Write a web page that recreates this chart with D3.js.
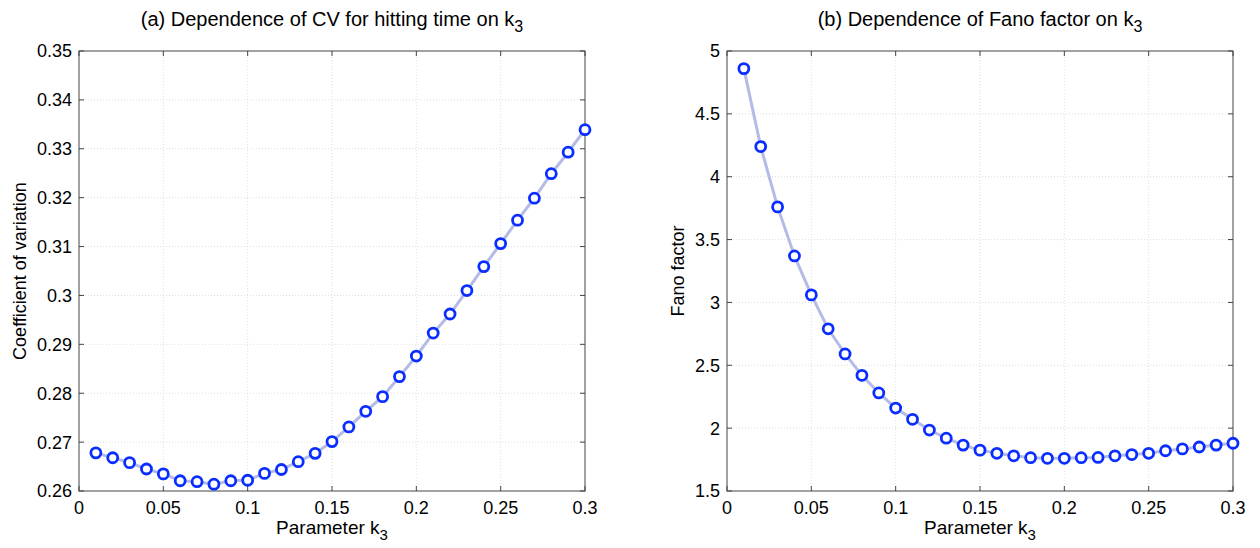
<!DOCTYPE html>
<html>
<head>
<meta charset="utf-8">
<script src="https://cdn.jsdelivr.net/npm/d3@7"></script>
<style>
  body { margin: 0; background: #fff; }
  svg text { font-family: "Liberation Sans", Arial, Helvetica, sans-serif; fill: #000; }
</style>
</head>
<body>
<svg id="chart" width="1260" height="548"></svg>
<script>
// k3 values shared by both panels
var k3 = [0.01,0.02,0.03,0.04,0.05,0.06,0.07,0.08,0.09,0.10,
          0.11,0.12,0.13,0.14,0.15,0.16,0.17,0.18,0.19,0.20,
          0.21,0.22,0.23,0.24,0.25,0.26,0.27,0.28,0.29,0.30];

// (a) coefficient of variation of the hitting time
var cvValues = [0.2678,0.2668,0.2658,0.2645,0.2635,0.2621,0.2619,0.2614,0.2621,0.2622,
                0.2636,0.2644,0.2660,0.2677,0.2701,0.2731,0.2763,0.2793,0.2834,0.2876,
                0.2923,0.2962,0.3010,0.3059,0.3106,0.3154,0.3199,0.3249,0.3293,0.3339];

// (b) Fano factor
var fanoValues = [4.86,4.24,3.76,3.37,3.06,2.79,2.59,2.42,2.28,2.16,
                  2.07,1.985,1.92,1.865,1.825,1.80,1.78,1.765,1.76,1.76,
                  1.765,1.767,1.78,1.79,1.80,1.82,1.835,1.85,1.865,1.88];

var xTicks = [0,0.05,0.1,0.15,0.2,0.25,0.3];
var cvTicks = [0.26,0.27,0.28,0.29,0.3,0.31,0.32,0.33,0.34,0.35];
var fanoTicks = [1.5,2,2.5,3,3.5,4,4.5,5];

var svg = d3.select("#chart");
var fontSize = 18;

function panel(opt){
    var g = svg.append("g").attr("class","panel");
    var x = d3.scaleLinear().domain([0,0.3]).range([opt.left,opt.right]);
    var y = d3.scaleLinear().domain(opt.yDomain).range([opt.bottom,opt.top]);

    //网格
    g.selectAll(".vgrid").data(xTicks.slice(1,-1)).enter().append("line")
        .attr("x1",d=>x(d)).attr("x2",d=>x(d))
        .attr("y1",opt.top).attr("y2",opt.bottom)
        .attr("stroke","#d6d6d6").attr("stroke-width",0.8)
        .attr("stroke-dasharray","1,2");
    g.selectAll(".hgrid").data(opt.yTicks.slice(1,-1)).enter().append("line")
        .attr("x1",opt.left).attr("x2",opt.right)
        .attr("y1",d=>y(d)).attr("y2",d=>y(d))
        .attr("stroke","#d6d6d6").attr("stroke-width",0.8)
        .attr("stroke-dasharray","1,2");

    //刻度 (inside, on all four sides)
    var tl = 5;
    g.selectAll(".xtb").data(xTicks).enter().append("line")
        .attr("x1",d=>x(d)).attr("x2",d=>x(d))
        .attr("y1",opt.bottom).attr("y2",opt.bottom-tl)
        .attr("stroke","#444");
    g.selectAll(".xtt").data(xTicks).enter().append("line")
        .attr("x1",d=>x(d)).attr("x2",d=>x(d))
        .attr("y1",opt.top).attr("y2",opt.top+tl)
        .attr("stroke","#444");
    g.selectAll(".ytl").data(opt.yTicks).enter().append("line")
        .attr("x1",opt.left).attr("x2",opt.left+tl)
        .attr("y1",d=>y(d)).attr("y2",d=>y(d))
        .attr("stroke","#444");
    g.selectAll(".ytr").data(opt.yTicks).enter().append("line")
        .attr("x1",opt.right).attr("x2",opt.right-tl)
        .attr("y1",d=>y(d)).attr("y2",d=>y(d))
        .attr("stroke","#444");

    //边框
    g.append("rect")
        .attr("x",opt.left).attr("y",opt.top)
        .attr("width",opt.right-opt.left).attr("height",opt.bottom-opt.top)
        .attr("fill","none").attr("stroke","#444").attr("stroke-width",1);

    //刻度标签
    g.selectAll(".xlab").data(xTicks).enter().append("text")
        .attr("x",d=>x(d)).attr("y",opt.bottom+23)
        .attr("text-anchor","middle").attr("font-size",fontSize)
        .text(d=>d3.format("~g")(d));
    g.selectAll(".ylab").data(opt.yTicks).enter().append("text")
        .attr("x",opt.left-7).attr("y",d=>y(d)).attr("dy","0.36em")
        .attr("text-anchor","end").attr("font-size",fontSize)
        .text(d=>d3.format("~g")(d));

    //折线
    var line = d3.line().x((d,i)=>x(k3[i])).y(d=>y(d));
    g.append("path").datum(opt.values)
        .attr("d",line)
        .attr("fill","none")
        .attr("stroke","#b3bbe6")
        .attr("stroke-width",3);

    //标记
    g.selectAll(".pt").data(opt.values).enter().append("circle")
        .attr("cx",(d,i)=>x(k3[i])).attr("cy",d=>y(d))
        .attr("r",5)
        .attr("fill","#fff")
        .attr("stroke","#0a2eff")
        .attr("stroke-width",2.8);

    //标题
    var mid = (opt.left+opt.right)/2;
    var tfs = 20;
    var t = g.append("text").attr("x",mid).attr("y",26)
        .attr("text-anchor","middle").attr("font-size",tfs);
    t.append("tspan").text(opt.title);
    t.append("tspan").attr("font-size",tfs*0.8).attr("dy",6).text("3");

    //x轴标题
    var xl = g.append("text").attr("x",mid).attr("y",opt.bottom+43)
        .attr("text-anchor","middle").attr("font-size",19);
    xl.append("tspan").text("Parameter k");
    xl.append("tspan").attr("font-size",15).attr("dy",6).text("3");

    //y轴标题
    g.append("text")
        .attr("transform",`translate(${opt.ylabelX},${(opt.top+opt.bottom)/2}) rotate(-90)`)
        .attr("text-anchor","middle").attr("font-size",fontSize)
        .text(opt.ylabel);
}

panel({left:79,right:585,top:51,bottom:491,
       yDomain:[0.26,0.35],yTicks:cvTicks,values:cvValues,
       title:"(a) Dependence of CV for hitting time on k",
       ylabel:"Coefficient of variation",ylabelX:26});
panel({left:727,right:1233,top:51,bottom:491,
       yDomain:[1.5,5],yTicks:fanoTicks,values:fanoValues,
       title:"(b) Dependence of Fano factor on k",
       ylabel:"Fano factor",ylabelX:684});
</script>
</body>
</html>
